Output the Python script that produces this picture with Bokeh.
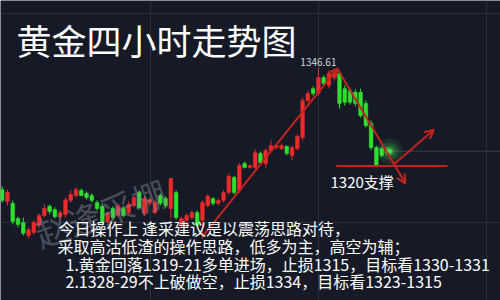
from bokeh.plotting import figure
from bokeh.models import Label, Arrow, OpenHead, FixedTicker, ColumnDataSource
from bokeh.embed import file_html
from bokeh.resources import INLINE

# ---- 4-hour gold candles ----
opens = [1313.6, 1310.4, 1309.9, 1305.8, 1304.7, 1301.2, 1302.0, 1303.9, 1306.6, 1309.1,
         1308.2, 1306.3, 1306.9, 1310.7, 1312.0, 1313.4, 1312.6, 1312.0, 1310.1, 1309.1,
         1305.0, 1308.5, 1306.6, 1308.5, 1307.4, 1309.3, 1312.8, 1307.2, 1309.9, 1307.4,
         1312.0, 1311.2, 1308.5, 1312.8, 1303.9, 1305.3, 1306.1, 1307.4, 1305.3, 1309.3,
         1311.2, 1309.9, 1310.7, 1312.8, 1316.9, 1313.4, 1320.7, 1319.6, 1319.6, 1323.4,
         1320.7, 1324.2, 1325.0, 1324.7, 1325.3, 1322.8, 1324.7, 1327.7, 1337.7, 1340.9,
         1339.6, 1343.9, 1341.8, 1343.9, 1345.0, 1340.9, 1340.4, 1339.9, 1339.9, 1336.9,
         1331.5, 1325.0, 1324.7, 1324.5]
highs = [1314.5, 1313.6, 1310.7, 1306.3, 1306.1, 1303.4, 1305.3, 1307.2, 1309.6, 1309.6,
         1308.8, 1308.0, 1311.5, 1313.4, 1314.2, 1313.9, 1313.1, 1312.6, 1310.7, 1309.9,
         1307.7, 1309.1, 1309.9, 1309.1, 1310.4, 1312.0, 1313.4, 1311.8, 1311.5, 1310.9,
         1312.6, 1311.8, 1316.9, 1313.4, 1306.3, 1307.2, 1308.0, 1308.0, 1310.7, 1312.3,
         1311.5, 1311.2, 1313.4, 1318.0, 1317.4, 1320.7, 1321.2, 1320.4, 1324.5, 1323.9,
         1324.7, 1326.9, 1325.8, 1326.1, 1325.5, 1325.5, 1328.5, 1338.5, 1340.4, 1341.5,
         1346.61, 1344.5, 1345.8, 1346.3, 1345.8, 1341.8, 1341.2, 1340.7, 1340.9, 1337.7,
         1332.3, 1325.5, 1325.3, 1325.0]
lows = [1310.1, 1309.3, 1304.2, 1303.4, 1301.2, 1300.4, 1301.5, 1303.1, 1306.1, 1306.9,
        1305.8, 1305.8, 1306.1, 1310.1, 1311.5, 1311.8, 1310.9, 1310.1, 1308.0, 1303.9,
        1304.5, 1305.5, 1306.1, 1306.1, 1306.9, 1308.8, 1308.2, 1306.6, 1309.3, 1306.9,
        1309.3, 1308.8, 1305.8, 1305.5, 1303.1, 1304.7, 1305.5, 1303.4, 1300.4, 1308.8,
        1309.3, 1309.3, 1310.1, 1312.3, 1312.3, 1312.8, 1319.3, 1319.3, 1319.1, 1320.7,
        1319.3, 1323.6, 1324.5, 1324.2, 1322.8, 1321.5, 1324.2, 1326.9, 1336.9, 1339.0,
        1339.0, 1341.8, 1340.9, 1343.1, 1335.5, 1336.3, 1336.6, 1336.1, 1333.1, 1330.4,
        1324.2, 1319.6, 1322.3, 1323.1]
closes = [1310.7, 1312.8, 1305.0, 1304.2, 1301.8, 1302.8, 1304.7, 1306.6, 1308.5, 1307.7,
          1306.3, 1307.4, 1310.9, 1312.3, 1313.6, 1312.0, 1311.5, 1310.7, 1308.5, 1304.7,
          1307.2, 1306.1, 1309.3, 1306.6, 1309.6, 1311.5, 1308.8, 1311.2, 1310.9, 1310.1,
          1309.9, 1309.3, 1316.6, 1306.1, 1305.8, 1306.6, 1307.4, 1303.9, 1310.1, 1311.8,
          1309.9, 1310.7, 1312.8, 1317.2, 1312.8, 1320.1, 1319.6, 1320.1, 1323.6, 1320.9,
          1324.2, 1325.5, 1325.5, 1325.5, 1323.4, 1325.0, 1328.0, 1337.7, 1339.6, 1339.6,
          1343.9, 1342.3, 1345.0, 1345.8, 1336.9, 1337.2, 1337.2, 1336.9, 1333.6, 1330.9,
          1325.0, 1320.1, 1322.8, 1323.6]

support_level = 1320
title_text = "黄金四小时走势图"
support_text = "1320支撑"
note_lines = [
    "今日操作上 逢采建议是以震荡思路对待，",
    "采取高沽低渣的操作思路，低多为主，高空为辅；",
    "1.黄金回落1319-21多单进场，止损1315，目标看1330-1331",
    "2.1328-29不上破做空，止损1334，目标看1323-1315",
]
watermark = "赵逢采棚"

BG = "#161a27"
GRID = "#2a2f3e"
RED_C = "#ec2b2b"
GREEN_C = "#2fe02f"
TREND = "#c0241c"
FONT = "Noto Sans CJK SC"

idx = list(range(len(opens)))
up = [c >= o for o, c in zip(opens, closes)]

def subset(flag):
    sel = [i for i in idx if up[i] == flag]
    return ColumnDataSource(dict(
        x=sel,
        top=[max(opens[i], closes[i]) for i in sel],
        bottom=[min(opens[i], closes[i]) for i in sel],
        high=[highs[i] for i in sel],
        low=[lows[i] for i in sel],
    ))

p = figure(width=500, height=300, x_range=(-0.32, 94.55), y_range=(1283.64, 1364.72),
           output_backend="svg", toolbar_location=None, min_border=0,
           min_border_left=0, min_border_right=0, min_border_top=0, min_border_bottom=0,
           background_fill_color=BG, border_fill_color=BG, outline_line_color=None)
p.xaxis.visible = False
p.yaxis.visible = False
p.xgrid.ticker = FixedTicker(ticks=[28.1, 60.0, 91.9])
p.ygrid.ticker = FixedTicker(ticks=[1304.7, 1361.2])
p.grid.grid_line_color = GRID
p.grid.grid_line_width = 1

# current price line
last = idx[-1]
p.segment(x0=[last], y0=[closes[-1] + 0.4], x1=[95], y1=[closes[-1] + 0.4],
          line_color="#3a3f4e", line_width=1)

for flag, col in ((True, RED_C), (False, GREEN_C)):
    src = subset(flag)
    p.segment(x0="x", y0="low", x1="x", y1="high", source=src, line_color=col, line_width=1)
    p.vbar(x="x", width=0.7, top="top", bottom="bottom", source=src,
           fill_color=col, line_color=col, line_width=0.5)

# glow on latest candle
for r, a in ((13, 0.10), (9, 0.18), (5, 0.35), (2.5, 0.9)):
    p.scatter(x=[last + 0.5], y=[closes[-1] + 0.4], size=2 * r, fill_color="#49e64a",
              line_color=None, fill_alpha=a)

# analyst drawings
peak_i = highs.index(max(highs))
p.segment(x0=[63.4], y0=[support_level], x1=[84.5], y1=[support_level],
          line_color=TREND, line_width=2)
for (xs, ys, xe, ye) in ((38.0, 1300.9, 63.6, 1346.3),
                         (63.6, 1346.3, 76.5, 1315.3),
                         (74.3, 1320.4, 81.9, 1329.8)):
    p.add_layout(Arrow(end=OpenHead(size=9, line_color=TREND, line_width=2),
                       x_start=xs, y_start=ys, x_end=xe, y_end=ye,
                       line_color=TREND, line_width=2))

# peak label
p.add_layout(Label(x=peak_i, y=max(highs) + 1.5, text=f"{max(highs):.2f}",
                   text_font=FONT, text_font_size="10px", text_color="#d6d6d6",
                   text_align="center", text_baseline="middle"))

# watermark
p.add_layout(Label(x=100, y=88, x_units="screen", y_units="screen", text=watermark,
                   text_font=FONT, text_font_size="34px", text_color="#8a8d98",
                   text_alpha=0.45, angle=0.33, text_align="center", text_baseline="middle"))

# title
p.add_layout(Label(x=16, y=261, x_units="screen", y_units="screen", text=title_text,
                   text_font=FONT, text_font_size="35px", text_color="#ffffff",
                   text_baseline="middle"))

# support text
p.add_layout(Label(x=330, y=119, x_units="screen", y_units="screen", text=support_text,
                   text_font=FONT, text_font_size="15px", text_color="#ffffff",
                   text_baseline="middle"))

# notes
for line, xx, yy in zip(note_lines, (58, 57, 65, 65), (73, 55, 37, 20)):
    p.add_layout(Label(x=xx, y=yy, x_units="screen", y_units="screen", text=line,
                       text_font=FONT, text_font_size="16px", text_color="#ffffff",
                       text_baseline="middle"))

open("out.html", "w").write(file_html(p, INLINE))
